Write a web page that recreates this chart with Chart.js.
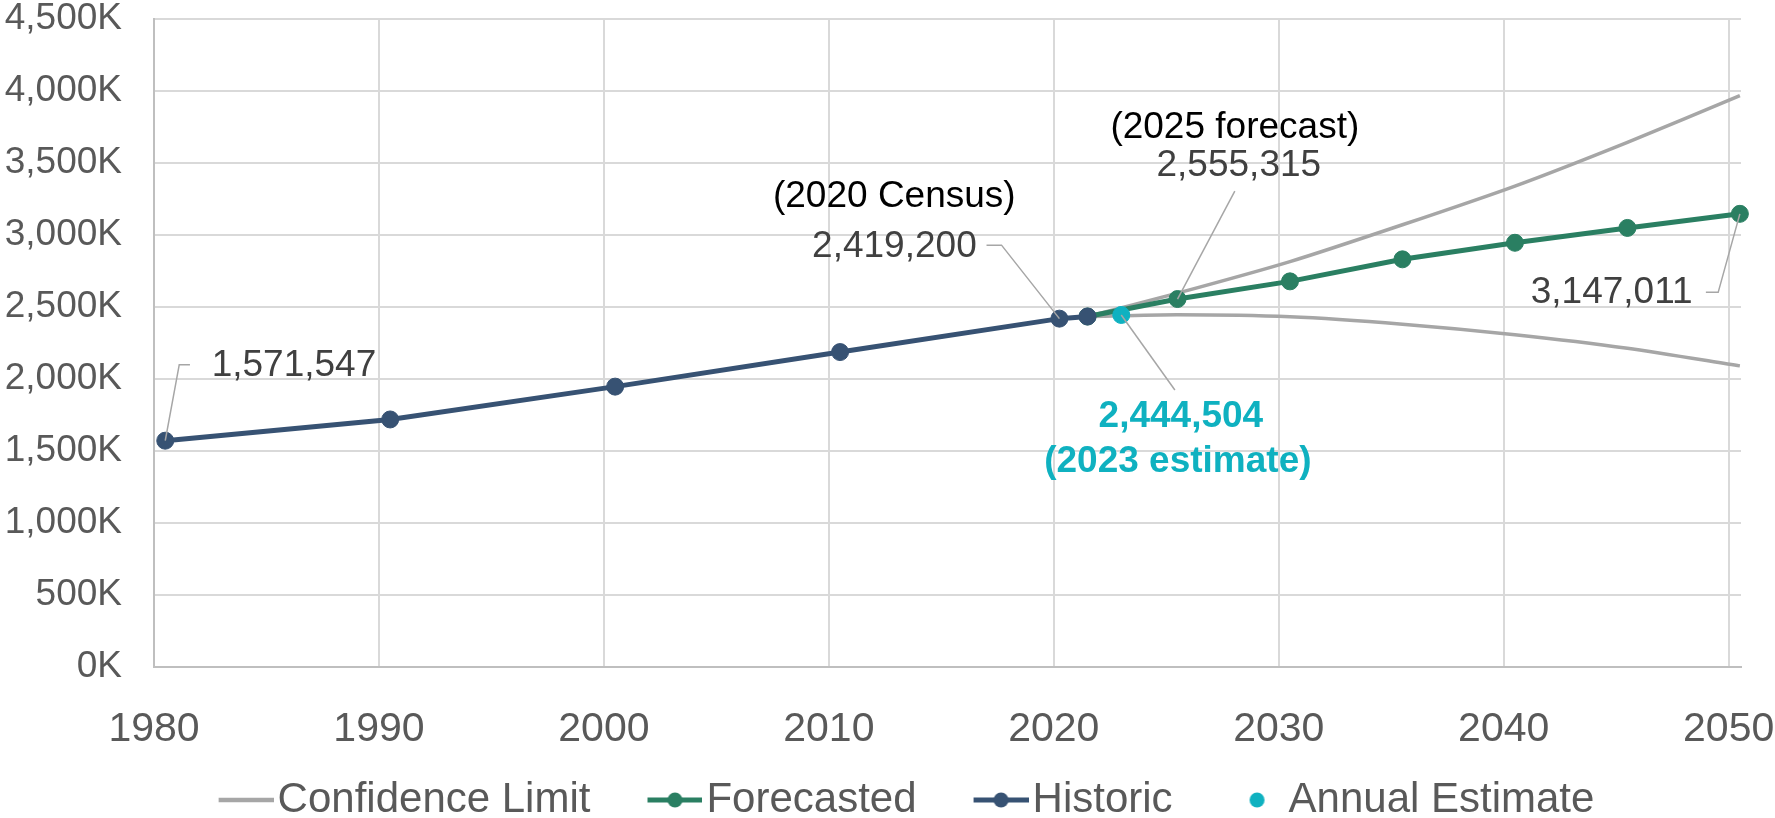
<!DOCTYPE html>
<html>
<head>
<meta charset="utf-8">
<script src="https://cdn.jsdelivr.net/npm/chart.js@4.4.1/dist/chart.umd.min.js"></script>
<style>
  html, body { margin: 0; padding: 0; background: #fff; }
  #wrap { width: 1775px; height: 818px; }
</style>
</head>
<body>
<div id="wrap"><canvas id="popChart"></canvas></div>
<script>
// ---- Data ----
const historicYears = [1980.5, 1990.5, 2000.5, 2010.5, 2020.25, 2021.5];
const historicValues = [1571547, 1719000, 1947000, 2187000, 2419200, 2434000];

const forecastYears = [2021.5, 2025.5, 2030.5, 2035.5, 2040.5, 2045.5, 2050.5];
const forecastValues = [2434000, 2555315, 2678000, 2831000, 2946000, 3049000, 3147011];
const upperLimit = [2434000, 2596000, 2815000, 3071000, 3340000, 3644000, 3968000];
const lowerLimit = [2434000, 2446000, 2432000, 2381000, 2308000, 2214000, 2091000];

const estimateYears = [2023.0];
const estimateValues = [2444504];

const yearTicks = [1980, 1990, 2000, 2010, 2020, 2030, 2040, 2050];
const legendLabels = ['Confidence Limit', 'Forecasted', 'Historic', 'Annual Estimate'];

// ---- Styles ----
const FONT = "'Liberation Sans', Arial, sans-serif";
const NAVY = '#375273';
const GREEN = '#2a7f62';
const TEAL = '#0fb1c0';
const GREY = '#a6a6a6';

const toPoints = (xs, ys) => xs.map((x, i) => ({ x: x, y: ys[i] }));
const fmt = v => v.toLocaleString('en-US');

// legend icons: line / line+dot / dot, drawn on small canvases
function legendIcon(kind, color) {
    const boxW = 94;
    const c = document.createElement('canvas');
    c.width = boxW + 34;
    c.height = 22;
    const g = c.getContext('2d');
    const x0 = c.width - 55, x1 = c.width, cy = 11;
    if (kind !== 'dot') {
        g.strokeStyle = color;
        g.lineWidth = kind === 'line' ? 4.5 : 5;
        g.beginPath(); g.moveTo(x0, cy); g.lineTo(x1, cy); g.stroke();
    }
    if (kind !== 'line') {
        g.fillStyle = color;
        g.beginPath(); g.arc((x0 + x1) / 2, cy, 7.5, 0, Math.PI * 2); g.fill();
    }
    return c;
}
const legendIcons = [
    legendIcon('line', GREY),
    legendIcon('both', GREEN),
    legendIcon('both', NAVY),
    legendIcon('dot', TEAL)
];

// ---- Callout labels with leader lines ----
const callouts = [
    { dataset: 3, index: 0, path: [[0, 0], [14, -76], [24.7, -76]],
      lines: [{ text: fmt(historicValues[0]), dx: 46.4, dy: -75, align: 'left', color: '#404040' }] },
    { dataset: 3, index: 4, path: [[-72.9, -73.5], [-57.9, -73.5], [0, 0]],
      lines: [{ text: '(2020 Census)', dx: -165.1, dy: -121.5, color: '#000000' },
              { text: fmt(historicValues[4]), dx: -165, dy: -72, color: '#404040' }] },
    { dataset: 2, index: 1, path: [[57.3, -108], [0, 0]],
      lines: [{ text: '(2025 forecast)', dx: 57.3, dy: -171, color: '#000000' },
              { text: fmt(forecastValues[1]), dx: 61.3, dy: -133, color: '#404040' }] },
    { dataset: 4, index: 0, path: [[53.6, 75], [0, 0]],
      lines: [{ text: fmt(estimateValues[0]), dx: 59.6, dy: 102.1, bold: true, color: TEAL },
              { text: '(2023 estimate)', dx: 56.6, dy: 146.7, bold: true, color: TEAL }] },
    { dataset: 2, index: 6, path: [[0, 0], [-21.7, 78.5], [-34, 78.5]],
      lines: [{ text: fmt(forecastValues[6]), dx: -47.3, dy: 79.3, align: 'right', color: '#404040' }] }
];

const calloutPlugin = {
    id: 'callouts',
    afterLayout(chart) {
        // nudge the legend row to where the reference puts it
        const lg = chart.legend;
        lg.top += 13; lg.bottom += 13;
        lg.left -= 9; lg.right -= 9;
    },
    afterDatasetsDraw(chart) {
        const ctx = chart.ctx;
        callouts.forEach(c => {
            const pt = chart.getDatasetMeta(c.dataset).data[c.index];
            if (!pt) return;
            ctx.save();
            ctx.strokeStyle = GREY;
            ctx.lineWidth = 1.5;
            ctx.beginPath();
            c.path.forEach((p, i) => {
                const px = pt.x + p[0], py = pt.y + p[1];
                if (i === 0) ctx.moveTo(px, py); else ctx.lineTo(px, py);
            });
            ctx.stroke();
            ctx.textBaseline = 'middle';
            c.lines.forEach(l => {
                ctx.font = (l.bold ? 'bold ' : '') + '37px ' + FONT;
                ctx.fillStyle = l.color;
                ctx.textAlign = l.align || 'center';
                ctx.fillText(l.text, pt.x + l.dx, pt.y + l.dy);
            });
            ctx.restore();
        });
    }
};

const ctx = document.getElementById('popChart').getContext('2d');
window.popChart = new Chart(ctx, {
    type: 'line',
    data: {
        datasets: [
            { label: 'Confidence Limit', data: toPoints(forecastYears, upperLimit), borderColor: GREY, borderWidth: 3.5,
              pointRadius: 0, tension: 0.25, order: 3, clip: false },
            { label: 'Confidence Limit', data: toPoints(forecastYears, lowerLimit), borderColor: GREY, borderWidth: 3.5,
              pointRadius: 0, tension: 0.25, order: 3, clip: false },
            { label: 'Forecasted', data: toPoints(forecastYears, forecastValues), borderColor: GREEN, backgroundColor: GREEN,
              borderWidth: 5, pointRadius: 8.5, pointBorderWidth: 1, pointBorderColor: GREEN, order: 2, clip: false },
            { label: 'Historic', data: toPoints(historicYears, historicValues), borderColor: NAVY, backgroundColor: NAVY,
              borderWidth: 5, pointRadius: 8.5, pointBorderWidth: 1, pointBorderColor: NAVY, order: 1, clip: false },
            { label: 'Annual Estimate', data: toPoints(estimateYears, estimateValues), showLine: false, borderColor: TEAL,
              backgroundColor: TEAL, pointRadius: 8.5, pointBorderWidth: 1, order: 0, clip: false }
        ]
    },
    options: {
        responsive: true,
        maintainAspectRatio: false,
        animation: false,
        devicePixelRatio: 1,
        layout: { padding: 0 },
        scales: {
            x: {
                type: 'linear',
                min: 1980,
                max: 2050.55,
                afterBuildTicks: scale => { scale.ticks = yearTicks.map(v => ({ value: v })); },
                afterFit: scale => {
                    scale.height = 98;
                    scale.paddingLeft = 0;
                    scale.paddingRight = 34;
                },
                ticks: { padding: 38, color: '#595959', font: { family: FONT, size: 41 }, callback: v => String(v), maxRotation: 0 },
                grid: { color: '#d9d9d9', lineWidth: 2, drawTicks: false },
                border: { color: '#bfbfbf', width: 2 }
            },
            y: {
                min: 0,
                max: 4500000,
                afterFit: scale => {
                    scale.width = 154;
                    scale.paddingTop = 19;
                    scale.paddingBottom = 0;
                },
                ticks: { stepSize: 500000, padding: 32, color: '#595959', font: { family: FONT, size: 37, lineHeight: 1 },
                         callback: v => fmt(v / 1000) + 'K' },
                grid: { color: '#d9d9d9', lineWidth: 2, drawTicks: false },
                border: { color: '#bfbfbf', width: 2 }
            }
        },
        plugins: {
            tooltip: { enabled: false },
            legend: {
                position: 'bottom',
                labels: {
                    usePointStyle: true,
                    pointStyleWidth: 94,
                    padding: 1,
                    color: '#595959',
                    font: { family: FONT, size: 42 },
                    generateLabels: () => legendLabels.map((text, i) => ({
                        text: text,
                        pointStyle: legendIcons[i],
                        fontColor: '#595959',
                        fillStyle: 'transparent',
                        strokeStyle: 'transparent',
                        lineWidth: 0,
                        hidden: false,
                        datasetIndex: [0, 2, 3, 4][i]
                    }))
                }
            }
        }
    },
    plugins: [calloutPlugin]
});
</script>
</body>
</html>
